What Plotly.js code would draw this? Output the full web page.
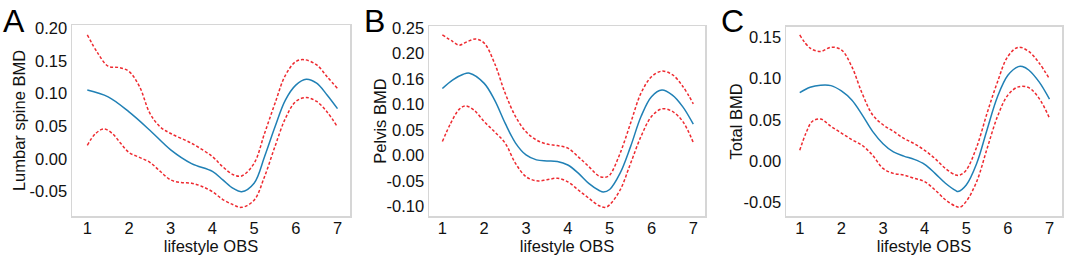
<!DOCTYPE html>
<html>
<head>
<meta charset="utf-8">
<script src="https://cdn.plot.ly/plotly-3.0.1.min.js"></script>
<style>
html,body{margin:0;padding:0;background:#fff;}
#chart{width:1065px;height:255px;}
</style>
</head>
<body>
<div id="chart"></div>
<script>
// ---- Panel A: Lumbar spine BMD ----
const xA_fit = [1, 1.5, 2, 2.5, 3, 3.5, 4, 4.25, 4.5, 4.7, 5, 5.25, 5.5, 5.75, 6, 6.25, 6.5, 6.75, 7];
const yA_fit = [0.1055, 0.095, 0.072, 0.044, 0.014, -0.007, -0.019, -0.032, -0.045, -0.050, -0.037, 0.0036, 0.049, 0.090, 0.113, 0.122, 0.116, 0.098, 0.077];
const xA_up = [1, 1.25, 1.5, 1.75, 2, 2.25, 2.5, 2.75, 3, 3.5, 4, 4.25, 4.5, 4.7, 5, 5.25, 5.5, 5.75, 6, 6.2, 6.5, 6.75, 7];
const yA_up = [0.190, 0.162, 0.142, 0.140, 0.134, 0.111, 0.070, 0.049, 0.039, 0.024, 0.0036, -0.012, -0.024, -0.026, -0.0066, 0.039, 0.085, 0.128, 0.149, 0.152, 0.144, 0.126, 0.108];
const xA_lo = [1, 1.2, 1.4, 1.6, 1.8, 2, 2.25, 2.5, 2.75, 3, 3.25, 3.5, 3.75, 4, 4.25, 4.5, 4.7, 5, 5.25, 5.5, 5.75, 6, 6.25, 6.5, 6.75, 7];
const yA_lo = [0.021, 0.039, 0.046, 0.039, 0.024, 0.010, 0.0025, -0.005, -0.019, -0.032, -0.036, -0.037, -0.042, -0.050, -0.062, -0.070, -0.074, -0.063, -0.027, 0.019, 0.062, 0.088, 0.094, 0.088, 0.072, 0.049];

// ---- Panel B: Pelvis BMD ----
const xB_fit = [1, 1.25, 1.5, 1.65, 2, 2.25, 2.5, 2.75, 3, 3.25, 3.5, 3.75, 4, 4.25, 4.5, 4.75, 4.85, 5, 5.25, 5.5, 5.75, 6, 6.25, 6.5, 6.75, 7];
const yB_fit = [0.131, 0.148, 0.159, 0.161, 0.141, 0.108, 0.063, 0.024, 0.0007, -0.009, -0.011, -0.012, -0.019, -0.035, -0.055, -0.069, -0.072, -0.067, -0.035, 0.017, 0.076, 0.115, 0.128, 0.118, 0.095, 0.061];
const xB_up = [1, 1.25, 1.4, 1.6, 1.8, 2, 2.25, 2.5, 2.75, 3, 3.25, 3.5, 3.75, 4, 4.25, 4.5, 4.75, 4.9, 5, 5.25, 5.5, 5.75, 6, 6.25, 6.5, 6.75, 7];
const yB_up = [0.236, 0.223, 0.216, 0.223, 0.228, 0.220, 0.180, 0.122, 0.076, 0.046, 0.030, 0.022, 0.019, 0.014, -0.003, -0.022, -0.041, -0.043, -0.039, 0.004, 0.063, 0.122, 0.154, 0.165, 0.158, 0.135, 0.101];
const xB_lo = [1, 1.2, 1.4, 1.55, 1.75, 2, 2.25, 2.5, 2.75, 3, 3.25, 3.5, 3.75, 4, 4.25, 4.5, 4.75, 4.9, 5, 5.25, 5.5, 5.75, 6, 6.25, 6.5, 6.75, 7];
const yB_lo = [0.027, 0.063, 0.090, 0.097, 0.089, 0.066, 0.046, 0.024, -0.016, -0.042, -0.050, -0.048, -0.045, -0.052, -0.068, -0.084, -0.099, -0.102, -0.097, -0.068, -0.016, 0.037, 0.076, 0.091, 0.086, 0.066, 0.025];

// ---- Panel C: Total BMD ----
const xC_fit = [1, 1.25, 1.5, 1.75, 2, 2.25, 2.5, 2.75, 3, 3.25, 3.5, 3.75, 4, 4.25, 4.5, 4.75, 4.8, 5, 5.25, 5.5, 5.75, 6, 6.25, 6.35, 6.5, 6.75, 7];
const yC_fit = [0.083, 0.0895, 0.092, 0.0915, 0.085, 0.074, 0.056, 0.036, 0.021, 0.011, 0.006, 0.002, -0.004, -0.015, -0.027, -0.036, -0.037, -0.029, -0.003, 0.038, 0.078, 0.104, 0.1146, 0.1146, 0.1105, 0.096, 0.075];
const xC_up = [1, 1.25, 1.5, 1.75, 2, 2.25, 2.5, 2.75, 3, 3.25, 3.5, 3.75, 4, 4.25, 4.5, 4.75, 4.85, 5, 5.25, 5.5, 5.75, 6, 6.25, 6.5, 6.75, 7];
const yC_up = [0.153, 0.137, 0.133, 0.138, 0.135, 0.1146, 0.082, 0.056, 0.044, 0.036, 0.0275, 0.021, 0.013, 0.003, -0.009, -0.017, -0.017, -0.011, 0.017, 0.058, 0.096, 0.127, 0.138, 0.133, 0.119, 0.0996];
const xC_lo = [1, 1.15, 1.3, 1.5, 1.75, 2, 2.25, 2.5, 2.75, 3, 3.25, 3.5, 3.75, 4, 4.25, 4.5, 4.75, 4.85, 5, 5.25, 5.5, 5.75, 6, 6.25, 6.5, 6.75, 7];
const yC_lo = [0.013, 0.034, 0.048, 0.051, 0.042, 0.034, 0.026, 0.019, 0.007, -0.009, -0.015, -0.017, -0.021, -0.025, -0.035, -0.047, -0.055, -0.056, -0.049, -0.025, 0.015, 0.054, 0.080, 0.090, 0.089, 0.076, 0.052];

// ---- Tick labels ----
const xTicks = [1, 2, 3, 4, 5, 6, 7];
const yTicksA = [-0.05, 0.00, 0.05, 0.10, 0.15, 0.20];
const yLabelsA = ["-0.05", "0.00", "0.05", "0.10", "0.15", "0.20"];
const yTicksB = [-0.10, -0.05, 0.00, 0.05, 0.10, 0.15, 0.20, 0.25];
const yLabelsB = ["-0.10", "-0.05", "0.00", "0.05", "0.10", "0.16", "0.20", "0.25"];
const yTicksC = [-0.05, 0.00, 0.05, 0.10, 0.15];
const yLabelsC = ["-0.05", "0.00", "0.05", "0.10", "0.15"];

const yTitles = ["Lumbar spine BMD", "Pelvis BMD", "Total BMD"];
const xTitle = "lifestyle OBS";
const panelLetters = ["A", "B", "C"];

const BLUE = "#2080b5";
const RED = "#ee2a30";
const FONT = "Liberation Sans, Arial, sans-serif";
const FS = 16.5;

function fitTrace(x, y, ax) {
  return {x: x, y: y, xaxis: "x" + ax, yaxis: "y" + ax, mode: "lines", type: "scatter",
    line: {color: BLUE, width: 1.5, shape: "spline", smoothing: 1}, hoverinfo: "skip"};
}
function ciTrace(x, y, ax) {
  return {x: x, y: y, xaxis: "x" + ax, yaxis: "y" + ax, mode: "lines", type: "scatter",
    line: {color: RED, width: 1.5, dash: "3px,2px", shape: "spline", smoothing: 1}, hoverinfo: "skip"};
}

const data = [
  ciTrace(xA_up, yA_up, ""), ciTrace(xA_lo, yA_lo, ""), fitTrace(xA_fit, yA_fit, ""),
  ciTrace(xB_up, yB_up, "2"), ciTrace(xB_lo, yB_lo, "2"), fitTrace(xB_fit, yB_fit, "2"),
  ciTrace(xC_up, yC_up, "3"), ciTrace(xC_lo, yC_lo, "3"), fitTrace(xC_fit, yC_fit, "3")
];

const W = 1065, H = 255;
function px2x(p) { return p / W; }
function px2y(p) { return (H - p) / H; }

function xAxis(dom, range, anchor) {
  return {domain: dom, range: range, anchor: anchor, tickvals: xTicks, ticktext: xTicks.map(String),
    showgrid: false, zeroline: false, showline: true, mirror: true, linecolor: "#d6d6d6", linewidth: 1.5,
    ticks: "", ticklabelstandoff: -3, tickfont: {family: FONT, size: FS, color: "#111"},
    title: {text: xTitle, font: {family: FONT, size: FS, color: "#111"}}};
}
function yAxis(dom, range, anchor, vals, labels, title) {
  return {domain: dom, range: range, anchor: anchor, tickvals: vals, ticktext: labels,
    showgrid: false, zeroline: false, showline: true, mirror: true, linecolor: "#d6d6d6", linewidth: 1.5,
    ticks: "", tickfont: {family: FONT, size: FS, color: "#111"},
    title: {text: title, font: {family: FONT, size: FS, color: "#111"}}};
}

const layout = {
  width: W, height: H, margin: {l: 0, r: 0, t: 0, b: 0},
  paper_bgcolor: "#fff", plot_bgcolor: "#fff", showlegend: false,
  font: {family: FONT},
  xaxis: xAxis([px2x(72), px2x(350)], [0.633, 7.30], "y"),
  yaxis: yAxis([px2y(216), px2y(25)], [-0.0872, 0.205], "x", yTicksA, yLabelsA, yTitles[0]),
  xaxis2: xAxis([px2x(429), px2x(705)], [0.68, 7.28], "y2"),
  yaxis2: yAxis([px2y(216), px2y(26)], [-0.119, 0.2535], "x2", yTicksB, yLabelsB, yTitles[1]),
  xaxis3: xAxis([px2x(786), px2x(1062)], [0.67, 7.30], "y3"),
  yaxis3: yAxis([px2y(216), px2y(26.7)], [-0.0667, 0.163], "x3", yTicksC, yLabelsC, yTitles[2]),
  annotations: [
    {text: panelLetters[0], x: px2x(1), y: px2y(1), xref: "paper", yref: "paper", xanchor: "left", yanchor: "top", showarrow: false, font: {family: FONT, size: 32, color: "#000"}},
    {text: panelLetters[1], x: px2x(362), y: px2y(1), xref: "paper", yref: "paper", xanchor: "left", yanchor: "top", showarrow: false, font: {family: FONT, size: 32, color: "#000"}},
    {text: panelLetters[2], x: px2x(719), y: px2y(1), xref: "paper", yref: "paper", xanchor: "left", yanchor: "top", showarrow: false, font: {family: FONT, size: 32, color: "#000"}}
  ]
};

Plotly.newPlot("chart", data, layout, {staticPlot: true, displayModeBar: false});
</script>
</body>
</html>
